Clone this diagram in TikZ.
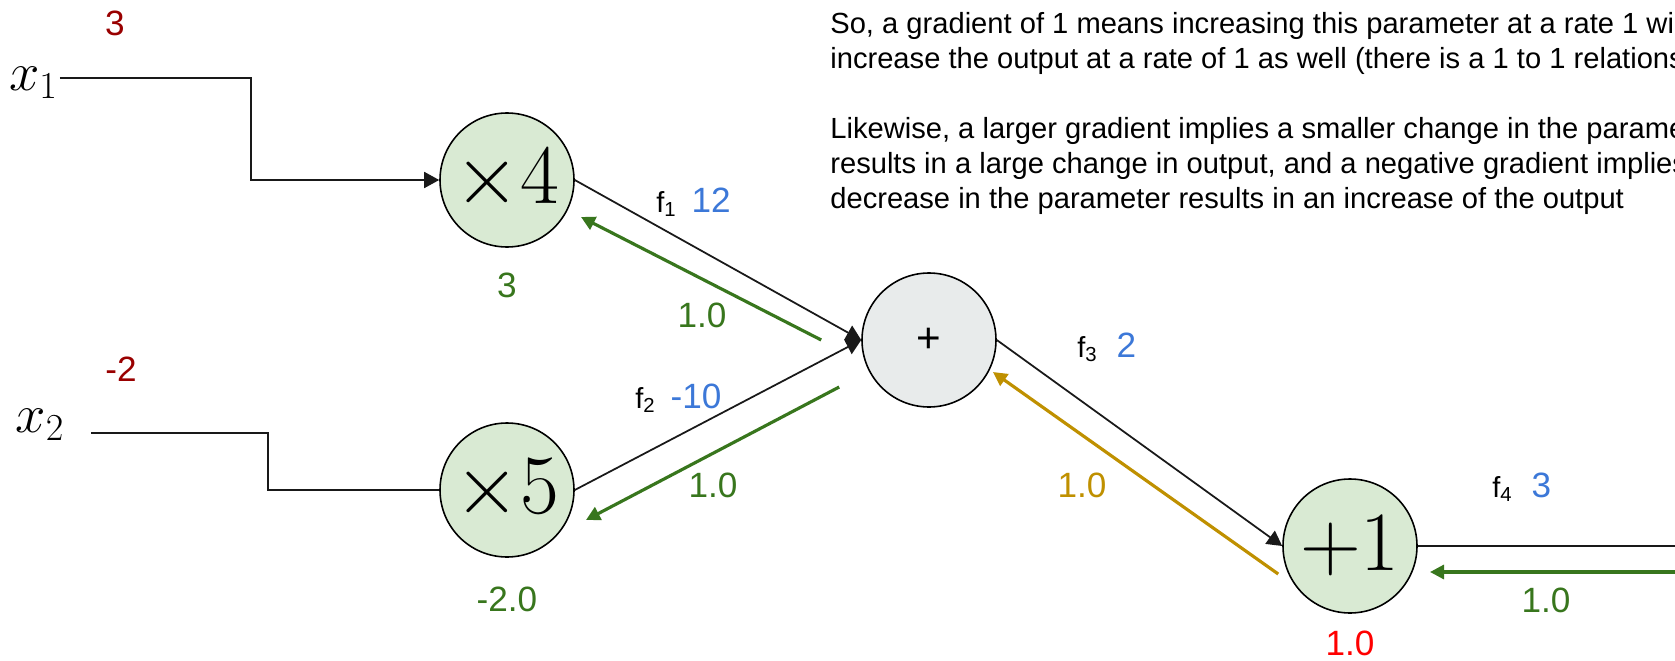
\RequirePackage{fix-cm}
\documentclass[tikz,border=0pt]{standalone}
\usepackage[no-math]{fontspec}
\newfontfamily\arialfont{Liberation Sans}
\usetikzlibrary{arrows.meta, positioning, calc}
\definecolor{opgreen}{HTML}{D9EAD3}
\definecolor{opgray}{HTML}{E8EBEB}
\definecolor{gradgreen}{HTML}{38761D}
\definecolor{gradgold}{HTML}{BF9000}
\definecolor{inred}{HTML}{990000}
\definecolor{outred}{HTML}{FF0000}
\definecolor{fwdblue}{HTML}{3C78D8}

\begin{document}
\begin{tikzpicture}[
    opnode/.style={draw, circle, line width=0.9pt, minimum size=2.68cm, inner sep=0pt, font=\fontsize{48}{56}\selectfont},
    mulop/.style={opnode, fill=opgreen},
    addop/.style={opnode, fill=opgray, font=\arialfont\fontsize{24}{28}\selectfont},
    inlbl/.style={inner sep=1pt, font=\fontsize{31}{36}\selectfont},
    numlbl/.style={inner sep=0pt, font=\arialfont\fontsize{20}{24}\selectfont},
    fwdlbl/.style={anchor=base west, inner sep=0pt, font=\arialfont\fontsize{16.5}{20}\selectfont},
    wire/.style={line width=1pt, black!90},
    arr/.style={wire, -{Triangle[length=0.3cm, width=0.32cm]}},
    grad/.style={line width=1.8pt, -{Triangle[length=0.28cm, width=0.28cm]}},
]

% slide frame
\path[use as bounding box] (0,0) rectangle (33.5,-13.22);
\clip (0,0) rectangle (33.5,-13.22);

% operations
\node[mulop] (mul1) at (10.14,-3.6) {$\times 4$};
\node[mulop] (mul2) at (10.14,-9.8) {$\times 5$};
\node[addop] (add) at (18.58,-6.8) {+};
\node[mulop] (inc) at (27.0,-10.92) {$+1$};
\coordinate (out) at (34,-10.92);

% inputs
\node[inlbl] (x1) at (0.67,-1.65) {$x_1$};
\node[inlbl] (x2) at (0.8,-8.5) {$x_2$};
\node[numlbl, inred] (x1val) at (2.3,-0.47) {3};
\node[numlbl, inred] (x2val) at (2.42,-7.38) {-2};

\draw[arr] ([yshift=0.09cm]x1.east) -| (5.02,-3.6) -- (mul1.west);
\draw[wire] ([xshift=0.5cm,yshift=-0.16cm]x2.east) -| (5.36,-9.8) -- (mul2.west);

% forward pass
\draw[arr] (mul1.east) -- (add.west);
\draw[arr] (mul2.east) -- (add.west);
\draw[arr] (add.east) -- (inc.west);
\draw[wire] (inc.east) -- (out);

\node[fwdlbl] (f1) at (13.12,-4.24) {f\textsubscript{1}\hspace{0.3cm}\textcolor{fwdblue}{\fontsize{20}{24}\selectfont 12}};
\node[fwdlbl] (f2) at (12.7,-8.16) {f\textsubscript{2}\hspace{0.3cm}\textcolor{fwdblue}{\fontsize{20}{24}\selectfont -10}};
\node[fwdlbl] (f3) at (21.54,-7.14) {f\textsubscript{3}\hspace{0.38cm}\textcolor{fwdblue}{\fontsize{20}{24}\selectfont 2}};
\node[fwdlbl] (f4) at (29.84,-9.94) {f\textsubscript{4}\hspace{0.38cm}\textcolor{fwdblue}{\fontsize{20}{24}\selectfont 3}};

% backward pass
\coordinate (gin) at (34,-11.44);
\draw[grad, gradgreen] (gin) -- ([shift={(1.6,-0.52)}]inc.center);
\draw[grad, gradgold] ([shift={(-0.08,-0.56)}]inc.west) -- ([shift={(1.28,-0.64)}]add.center);
\draw[grad, gradgreen] ([xshift=-0.8cm]add.west) -- ([shift={(1.48,-0.74)}]mul1.center);
\draw[grad, gradgreen] ([shift={(-0.44,-0.94)}]add.west) -- ([shift={(1.58,-0.6)}]mul2.center);

\node[numlbl, gradgreen] (g4) at (30.92,-12.0) {1.0};
\node[numlbl, gradgold] (g3) at (21.64,-9.7) {1.0};
\node[numlbl, gradgreen] (g1) at (14.04,-6.3) {1.0};
\node[numlbl, gradgreen] (g2) at (14.26,-9.7) {1.0};

\node[numlbl, gradgreen, below=0.5cm of mul1] (mul1grad) {3};
\node[numlbl, gradgreen, below=0.58cm of mul2] (mul2grad) {-2.0};
\node[numlbl, outred, below=0.34cm of inc] (incgrad) {1.0};

% side note
\node[anchor=north west, inner sep=0pt, align=left, font=\arialfont\fontsize{16.58}{19.9}\selectfont] (note) at (16.6,-0.24)
  {So, a gradient of 1 means increasing this parameter at a rate 1 will\\
   increase the output at a rate of 1 as well (there is a 1 to 1 relationship)\\[0.7cm]
   Likewise, a larger gradient implies a smaller change in the parameter\\
   results in a large change in output, and a negative gradient implies a\\
   decrease in the parameter results in an increase of the output};

\end{tikzpicture}
\end{document}
